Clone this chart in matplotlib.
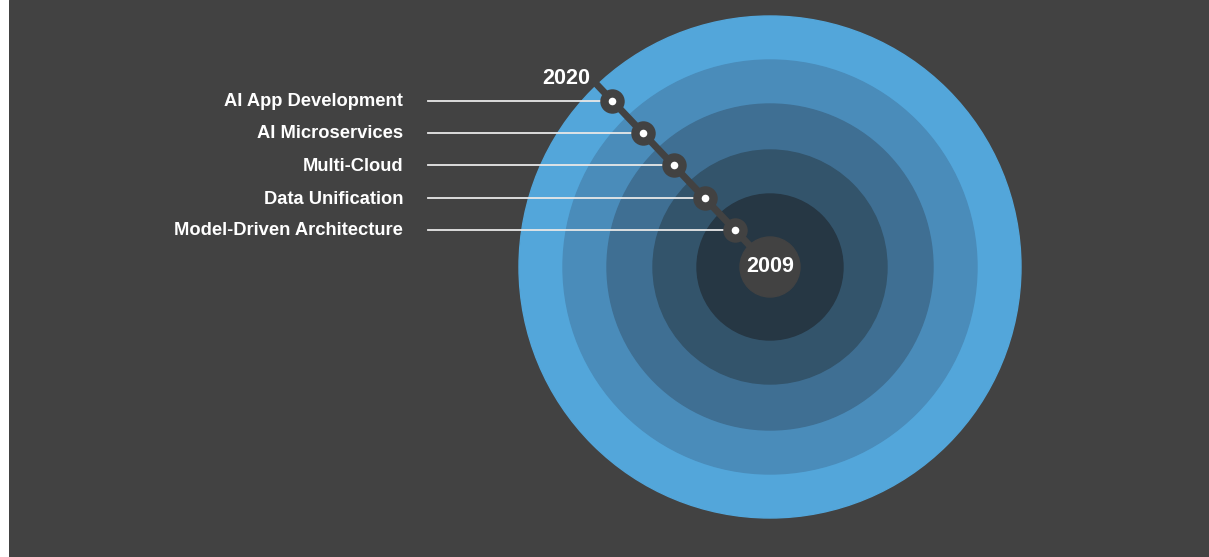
import numpy as np
import matplotlib.pyplot as plt
from matplotlib.patches import Circle

plt.rcParams['font.family'] = ['Liberation Sans', 'DejaVu Sans']

# data
labels = ["AI App Development", "AI Microservices", "Multi-Cloud",
          "Data Unification", "Model-Driven Architecture"]
ring_radii = [251, 207, 163, 117, 73]   # outer -> inner, px
core_radius = 30
ring_colors = ["#53a6da", "#4a8cba", "#3f6f93", "#33546b", "#263744"]
year_start = "2009"
year_end = "2020"

bg = "#424242"
W, H = 1209, 557
cx, cy = 770, 267
ang = np.deg2rad(46.5)

fig = plt.figure(figsize=(W / 100, H / 100), dpi=100, facecolor="white")
ax = fig.add_axes([9 / W, 0, 1 - 9 / W, 1])
ax.set_xlim(9, W)
ax.set_ylim(H, 0)
ax.set_facecolor(bg)
ax.axis("off")
ax.add_patch(plt.Rectangle((9, 0), W, H, color=bg, zorder=0))

for r, c in zip(ring_radii, ring_colors):
    ax.add_patch(Circle((cx, cy), r, color=c, zorder=1))

# diagonal timeline
r_top = ring_radii[0] + 2
ax.plot([cx - r_top * np.cos(ang), cx], [cy - r_top * np.sin(ang), cy],
        color=bg, lw=5, solid_capstyle="butt", zorder=2)
ax.add_patch(Circle((cx, cy), core_radius, color=bg, zorder=3))

# dots at ring mid-radii
bounds = ring_radii + [core_radius]
mids = [(bounds[i] + bounds[i + 1]) / 2 for i in range(len(labels))]
for lab, r in zip(labels, mids):
    x = cx - r * np.cos(ang)
    y = cy - r * np.sin(ang)
    ax.plot([428, x], [y, y], color="#e8e8e8", lw=1.3, zorder=2)
    ax.scatter([x], [y], s=310, color=bg, zorder=4, linewidths=0)
    ax.scatter([x], [y], s=30, color="white", zorder=5, linewidths=0)
    ax.text(403, y + 1, lab, ha="right", va="center", color="white",
            fontsize=13.2, fontweight="bold")

ax.text(566, 79, year_end, ha="center", va="center", color="white",
        fontsize=15.5, fontweight="bold", zorder=6)
ax.text(cx, cy, year_start, ha="center", va="center", color="white",
        fontsize=15.5, fontweight="bold", zorder=6)

fig.savefig("out.png", dpi=100, facecolor="white")
